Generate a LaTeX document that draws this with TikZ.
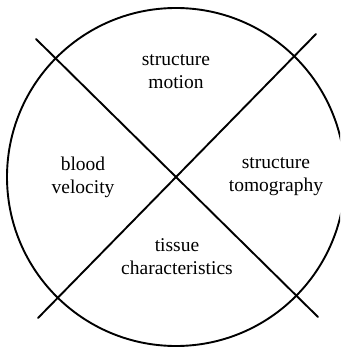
\documentclass[tikz,border=0pt]{standalone}
\usepackage{fontspec}
\setmainfont{Liberation Serif}
\tikzset{
  lbl/.style={align=center, font=\fontsize{19.5}{23}\selectfont, inner sep=0pt},
  stroke/.style={line width=1.9pt, line cap=round}
}
\begin{document}
\begin{tikzpicture}[x=1pt, y=-1pt]
\useasboundingbox (0,0) rectangle (340,347);
\clip (0,0) rectangle (340,347);
\coordinate (c) at (176,177);
\draw[stroke] (c) circle[radius=169];
\coordinate (a1) at (36,39);
\coordinate (a2) at (318,317);
\coordinate (b1) at (316,34);
\coordinate (b2) at (38,318);
\draw[stroke] (a1) -- (a2);
\draw[stroke] (b1) -- (b2);
\node[lbl] (top) at (176,72) {structure\\motion};
\node[lbl] (left) at (83,177) {blood\\velocity};
\node[lbl] (right) at (276,177) {structure\\tomography};
\node[lbl] (bottom) at (177,257) {tissue\\characteristics};
\end{tikzpicture}
\end{document}
